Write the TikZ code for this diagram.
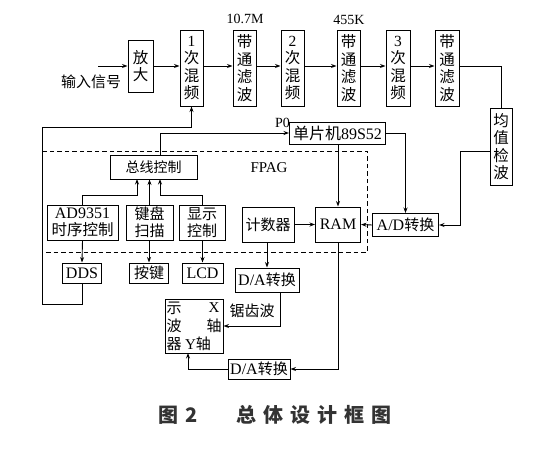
\documentclass[tikz,border=0pt]{standalone}
\usepackage{fontspec}
\setmainfont{Liberation Serif}
\newfontfamily\cjk{Noto Sans CJK SC}
\usetikzlibrary{arrows.meta,calc}
\tikzset{
  x=1pt, y=-1pt,
  box/.style={draw, line width=1pt, inner sep=0pt, align=center, font=\fontsize{16}{17}\selectfont},
  zbox/.style={box, font=\cjk\fontsize{15}{17}\selectfont},
  vbox/.style={box, font=\cjk\fontsize{15.5}{17.5}\selectfont},
  arr/.style={-{Stealth[length=5.5pt,width=4pt]}, line width=0.9pt},
  ln/.style={line width=0.9pt},
  lbl/.style={inner sep=0pt, font=\fontsize{15}{16}\selectfont},
  zlbl/.style={inner sep=0pt, font=\cjk\fontsize{15}{16}\selectfont},
  fpga/.style={line width=0.9pt, dash pattern=on 4.5pt off 3pt}
}
\begin{document}
\begin{tikzpicture}
\useasboundingbox (0,0) rectangle (534,453);
% top chain
\node[vbox, minimum width=25, minimum height=52] (amp) at (140.5,66) {放\\大};
\node[vbox, minimum width=23, minimum height=76] (mix1) at (191.5,68) {\rmfamily 1\\次\\混\\频};
\node[vbox, minimum width=23, minimum height=76] (bpf1) at (244.5,68) {带\\通\\滤\\波};
\node[vbox, minimum width=23, minimum height=76] (mix2) at (292.5,68) {\rmfamily 2\\次\\混\\频};
\node[vbox, minimum width=23, minimum height=76] (bpf2) at (348.5,68) {带\\通\\滤\\波};
\node[vbox, minimum width=24, minimum height=76] (mix3) at (398,68) {\rmfamily 3\\次\\混\\频};
\node[vbox, minimum width=24, minimum height=76] (bpf3) at (447,68) {带\\通\\滤\\波};
\node[vbox, minimum width=22, minimum height=77] (avg) at (501,146.5) {均\\值\\检\\波};
\node[lbl, font=\fontsize{14}{15}\selectfont] (f1) at (245,19) {10.7M};
\node[lbl, font=\fontsize{14}{15}\selectfont] (f2) at (349,20) {455K};
\node[zlbl] (inp) at (91,82) {输入信号};
\coordinate (in) at (98,66);
% middle
\node[box, minimum width=96, minimum height=22] (mcu) at (337.5,133) {{\cjk 单片机}89S52};
\node[lbl, anchor=south east, font=\fontsize{14}{15}\selectfont] (p0) at (290,128) {P0};
\draw[fpga] (42,151) rectangle (367,252);
\node[lbl] (fpgalbl) at (269,168) {FPAG};
\node[zbox, font=\cjk\fontsize{14}{15}\selectfont, minimum width=87, minimum height=24] (bus) at (153.5,167) {总线控制};
\node[box, minimum width=71, minimum height=35, font=\fontsize{16}{17}\selectfont] (ad) at (82.5,222.5) {AD9351\\{\cjk\fontsize{15.5}{17}\selectfont 时序控制}};
\node[zbox, minimum width=47, minimum height=35] (kbd) at (149.5,222.5) {键盘\\扫描};
\node[zbox, minimum width=46, minimum height=35] (disp) at (202,222.5) {显示\\控制};
\node[zbox, minimum width=52, minimum height=35] (cnt) at (268,224.5) {计数器};
\node[box, minimum width=45, minimum height=35] (ram) at (338,224.5) {RAM};
\node[box, minimum width=66, minimum height=23] (adc) at (405.5,225) {A/D{\cjk\fontsize{15}{16}\selectfont 转换}};
% lower
\node[box, minimum width=39, minimum height=20] (dds) at (82,273) {DDS};
\node[zbox, minimum width=39, minimum height=20] (key) at (149,273) {按键};
\node[box, minimum width=41, minimum height=20] (lcd) at (202.5,273) {LCD};
\node[box, minimum width=64, minimum height=24] (dac1) at (267,280) {D/A{\cjk\fontsize{15}{16}\selectfont 转换}};
\node[box, minimum width=58, minimum height=54] (scope) at (194,326) {};
\node[zlbl] (s1) at (174,308) {示};
\node[zlbl] (s2) at (174,326) {波};
\node[zlbl] (s3) at (174,344) {器};
\node[lbl] (sx) at (214,308) {X};
\node[zlbl] (sx2) at (214,326) {轴};
\node[lbl] (sy) at (198,344) {Y{\cjk 轴}};
\node[box, minimum width=62, minimum height=20] (dac2) at (259,369) {D/A{\cjk\fontsize{15}{16}\selectfont 转换}};
\node[zlbl] (saw) at (252,311) {锯齿波};
\node[inner sep=0pt, text=black!80, font=\cjk\bfseries\fontsize{20}{22}\selectfont] (cap) at (275,415) {图\hspace{7pt}2\hspace{38pt}总\hspace{7pt}体\hspace{7pt}设\hspace{7pt}计\hspace{7pt}框\hspace{7pt}图};
% coordinates
\coordinate (ddsc) at (42,304);
\coordinate (lo) at (42,127);
\coordinate (busp) at (160,155);
\coordinate (busa) at (137,179);
\coordinate (busc) at (160,179);
\coordinate (avgo) at (490,151);
\coordinate (avgc) at (460,151);
\coordinate (dacx) at (280,292);
\coordinate (scy) at (188,353);
% connectors
\draw[arr] (in) -- (amp.west);
\draw[arr] (amp.east) -- (amp.east -| mix1.west);
\draw[arr] (amp.east -| mix1.east) -- (amp.east -| bpf1.west);
\draw[arr] (amp.east -| bpf1.east) -- (amp.east -| mix2.west);
\draw[arr] (amp.east -| mix2.east) -- (amp.east -| bpf2.west);
\draw[arr] (amp.east -| bpf2.east) -- (amp.east -| mix3.west);
\draw[arr] (amp.east -| mix3.east) -- (amp.east -| bpf3.west);
\draw[ln] (amp.east -| bpf3.east) -| (avg.north);
\draw[arr] (avgo) -- (avgc) |- (adc.east);
\draw[arr] (adc.west) -- (ram.east);
\draw[arr] (cnt.east) -- (ram.west);
\draw[arr] (mcu.east) -| (adc.north);
\draw[arr] (mcu.south -| ram.north) -- (ram.north);
\draw[arr] (busp) |- (mcu.west);
\draw[arr] (dds.south) |- (ddsc) -- (lo) -| (mix1.south);
\draw[arr] (ad.north) |- ($(busa)+(0,16)$) -- (busa);
\draw[arr] (kbd.north) -- (kbd.north |- bus.south);
\draw[arr] (disp.north) |- ($(busc)+(0,16)$) -- (busc);
\draw[arr] (ad.south) -- (dds.north);
\draw[arr] (kbd.south -| key.north) -- (key.north);
\draw[arr] (disp.south -| lcd.north) -- (lcd.north);
\draw[arr] (cnt.south -| dac1.north) -- (dac1.north);
\draw[arr] (dacx) |- (scope.east);
\draw[arr] (ram.south) |- (dac2.east);
\draw[arr] (dac2.west) -| (scy);
\end{tikzpicture}
\end{document}
